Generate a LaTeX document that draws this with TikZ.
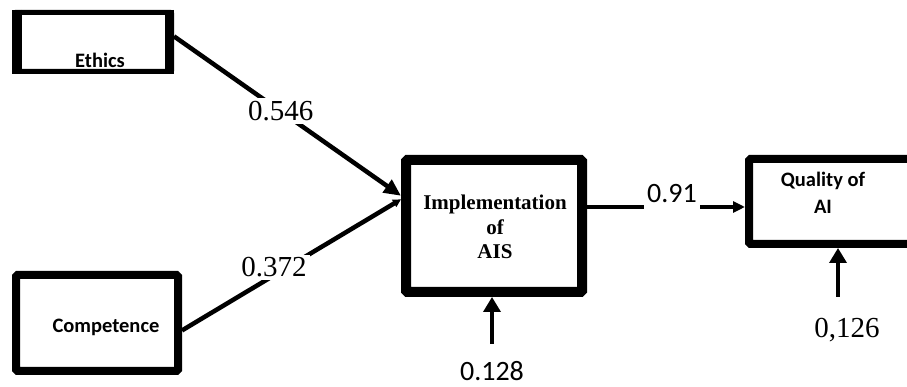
\documentclass[tikz,border=0pt]{standalone}
\usepackage{fontspec}
\setmainfont{Liberation Serif}
\newfontfamily\calibri{Carlito}
\usetikzlibrary{arrows.meta}

\begin{document}
\begin{tikzpicture}[x=1pt, y=1pt,
        box/.style={draw, rounded corners=1.5pt, inner sep=0pt},
        boxname/.style={font=\calibri\bfseries\fontsize{20.5}{27}\selectfont, align=center},
        link/.style={line width=4.5pt, -{Triangle[length=17pt, width=15pt]}},
        up/.style={line width=3.5pt, -{Triangle[length=15pt, width=17pt]}},
        coef/.style={font=\fontsize{29}{30}\selectfont, fill=white, inner sep=3pt}]
            \clip (0,0) rectangle (907,387);
            \node[box, line width=5pt, minimum width=157pt, minimum height=59pt] (ethics) at (93,345) {};
            \draw[line width=10pt] ([xshift=5pt]ethics.north west) -- ([xshift=5pt]ethics.south west);
            \draw[line width=9pt] ([xshift=-4.5pt]ethics.north east) -- ([xshift=-4.5pt]ethics.south east);
            \node[boxname] (ethicsname) at (100,327) {Ethics};
            \node[box, line width=8pt, minimum width=162pt, minimum height=96pt] (comp) at (97,64) {};
            \node[boxname] (compname) at (106,60) {Competence};
            \node[box, line width=10pt, minimum width=176pt, minimum height=132pt] (impl) at (494,161) {};
            \node[font=\bfseries\fontsize{21}{24.5}\selectfont, align=center] (implname) at (495,160) {Implementation\\of\\AIS};
            \node[box, line width=8pt, minimum width=201pt, minimum height=85pt] (qual) at (849.5,185.5) {};
            \node[boxname] (qualname) at (823,194) {Quality of\\AI};
            \draw[link] (ethics.4) -- (impl.162) node[coef, pos=.47] (b1) {0.546};
            \draw[link, -{Triangle[length=8pt, width=8pt]}] (comp.-5) -- (impl.164) node[coef, pos=.42, yshift=8pt] (b2) {0.372};
            \draw[link, line width=3.5pt, -{Triangle[length=12pt, width=11pt]}] ([yshift=19pt]impl.east) -- ([yshift=19pt]impl.east -| qual.west)
                node[coef, font=\calibri\fontsize{28}{30}\selectfont, midway, xshift=6pt, yshift=13pt, inner ysep=9pt] (b3) {0.91};
            \coordinate (e1) at (492,43);
            \node[font=\calibri\fontsize{28}{30}\selectfont] (v1) at (492,16) {0.128};
            \draw[up] (e1) -- (e1 |- impl.south);
            \coordinate (e2) at (838,90);
            \node[font=\fontsize{29}{30}\selectfont] (v2) at (847,57) {0,126};
            \draw[up] (e2) -- (e2 |- qual.south);
        \end{tikzpicture}
\end{document}
